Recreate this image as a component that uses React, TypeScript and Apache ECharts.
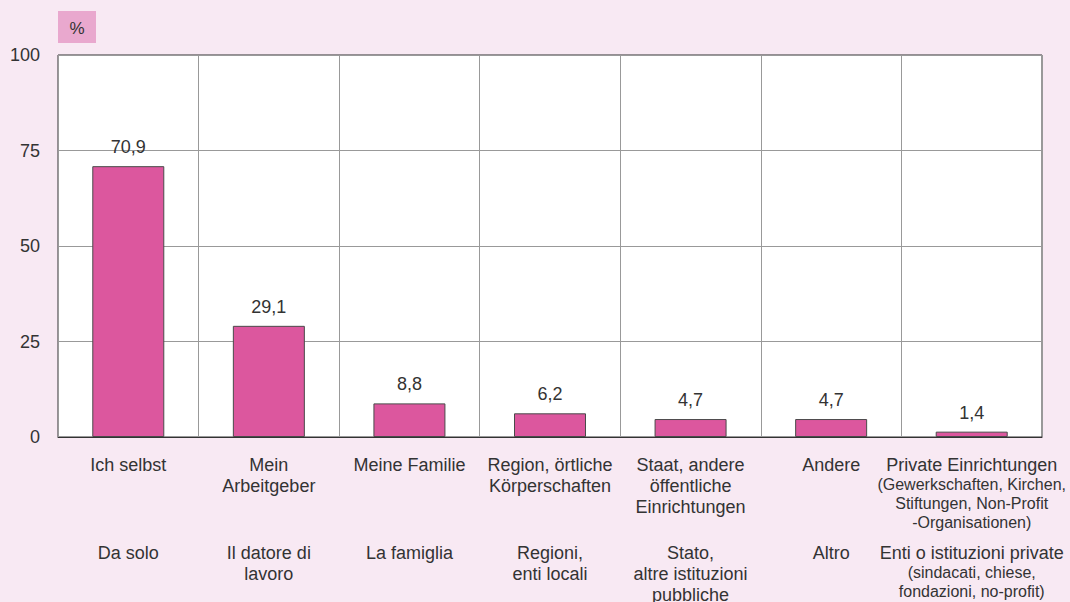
import React, { useEffect, useRef } from "react";
import * as echarts from "echarts";

const categoriesDE = [
  "Ich selbst",
  "Mein\nArbeitgeber",
  "Meine Familie",
  "Region, örtliche\nKörperschaften",
  "Staat, andere\nöffentliche\nEinrichtungen",
  "Andere",
  "{a|Private Einrichtungen}\n{b|(Gewerkschaften, Kirchen,}\n{b|Stiftungen, Non-Profit}\n{b|-Organisationen)}",
];
const categoriesIT = [
  "Da solo",
  "Il datore di\nlavoro",
  "La famiglia",
  "Regioni,\nenti locali",
  "Stato,\naltre istituzioni\npubbliche",
  "Altro",
  "{a|Enti o istituzioni private}\n{b|(sindacati, chiese,}\n{b|fondazioni, no-profit)}",
];
const values = [70.9, 29.1, 8.8, 6.2, 4.7, 4.7, 1.4];
const yTicks = { min: 0, max: 100, interval: 25 };
const unitLabel = "%";

const FONT = "Liberation Sans, Arial, sans-serif";
const TXT = "#333333";

export default function App() {
  const ref = useRef<HTMLDivElement>(null);
  useEffect(() => {
    if (!ref.current) return;
    const chart = echarts.init(ref.current, null, { renderer: "svg" });
    const rich = {
      a: { fontSize: 18, lineHeight: 21, color: TXT, fontFamily: FONT },
      b: { fontSize: 16, lineHeight: 19, color: TXT, fontFamily: FONT },
    };
    chart.setOption({
      animation: false,
      backgroundColor: "#F8E9F3",
      textStyle: { fontFamily: FONT },
      grid: {
        left: 58,
        top: 55,
        width: 984,
        height: 382,
        outerBoundsMode: "none",
        containLabel: false,
        show: true,
        backgroundColor: "#ffffff",
        borderColor: "#333333",
        borderWidth: 1,
      },
      graphic: [
        {
          type: "rect",
          left: 58,
          top: 11,
          shape: { width: 38, height: 32 },
          style: { fill: "#E9A8CE" },
        },
        {
          type: "text",
          x: 77,
          y: 28,
          style: {
            text: unitLabel,
            fontSize: 17,
            fontFamily: FONT,
            fill: TXT,
            align: "center",
            verticalAlign: "middle",
          },
        },
      ],
      xAxis: [
        {
          type: "category",
          data: categoriesDE,
          position: "bottom",
          axisLine: { show: true, lineStyle: { color: "#333333", width: 1 } },
          axisTick: { show: false },
          splitLine: { show: true, interval: 0, lineStyle: { color: "#999999", width: 1 } },
          axisLabel: {
            interval: 0,
            margin: 17,
            fontSize: 18,
            lineHeight: 21,
            color: TXT,
            fontFamily: FONT,
            align: "center",
            rich,
          },
        },
        {
          type: "category",
          data: categoriesIT,
          position: "bottom",
          offset: 88,
          axisLine: { show: false },
          axisTick: { show: false },
          splitLine: { show: false },
          axisLabel: {
            interval: 0,
            margin: 17,
            fontSize: 18,
            lineHeight: 21,
            color: TXT,
            fontFamily: FONT,
            align: "center",
            rich,
          },
        },
      ],
      yAxis: {
        type: "value",
        min: yTicks.min,
        max: yTicks.max,
        interval: yTicks.interval,
        axisLine: { show: false },
        axisTick: { show: false },
        splitLine: { show: true, lineStyle: { color: "#999999", width: 1 } },
        axisLabel: { fontSize: 18, color: TXT, fontFamily: FONT, margin: 18 },
      },
      series: [
        {
          type: "bar",
          xAxisIndex: 0,
          data: values,
          barWidth: 72,
          itemStyle: { color: "#DC579E", borderColor: "#4a4a4a", borderWidth: 1 },
          label: {
            show: true,
            position: "top",
            distance: 10,
            fontSize: 18,
            color: TXT,
            fontFamily: FONT,
            formatter: (p: any) => String(p.value).replace(".", ","),
          },
        },
      ],
    });
    return () => chart.dispose();
  }, []);
  return (
    <div
      ref={ref}
      style={{ position: "fixed", left: 0, top: 0, width: 1070, height: 602 }}
    />
  );
}
